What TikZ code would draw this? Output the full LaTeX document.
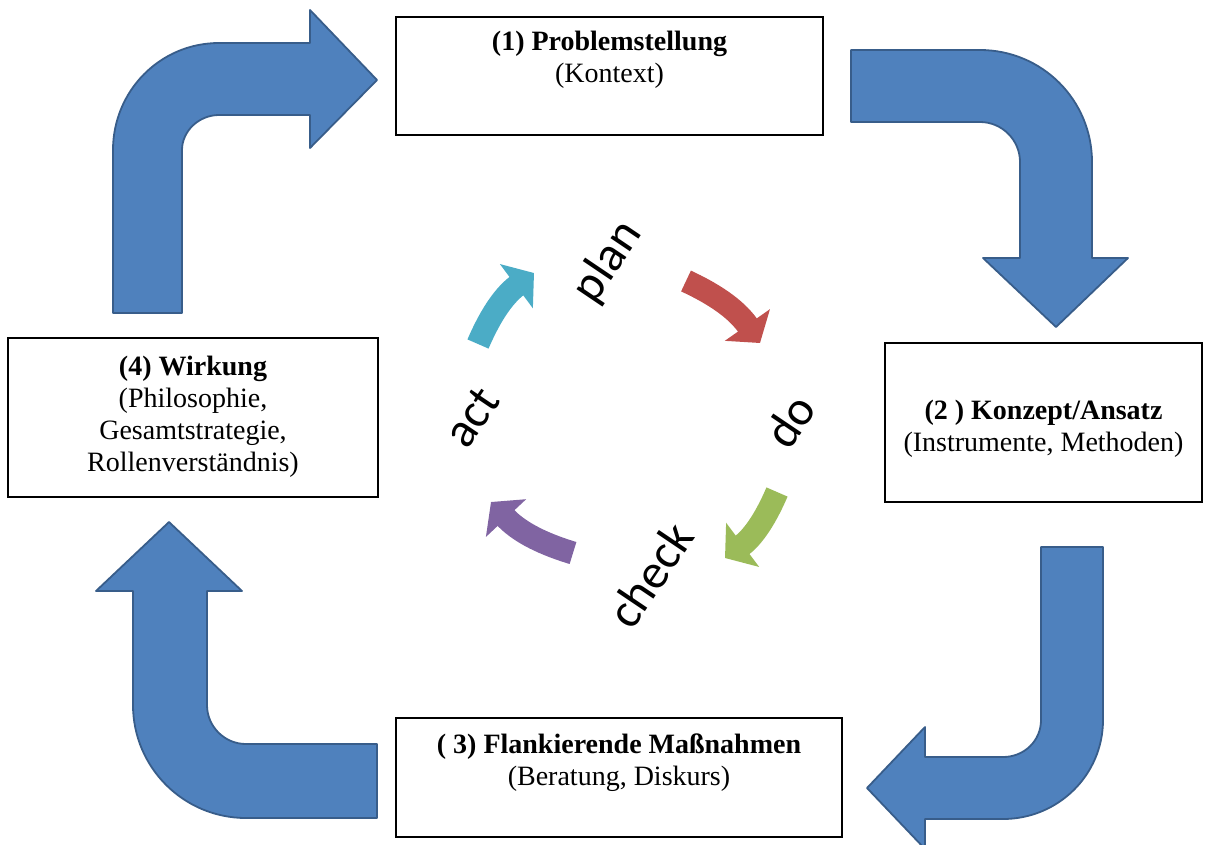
\documentclass[tikz,border=0pt]{standalone}
\usepackage{fontspec}
\setmainfont{Liberation Serif}
\newfontfamily\cyclefont{Carlito}
\usetikzlibrary{arrows.meta}
\definecolor{bigfill}{HTML}{4F81BD}
\definecolor{bigline}{HTML}{385D8A}
\definecolor{cteal}{HTML}{4BACC6}
\definecolor{cred}{HTML}{C0504D}
\definecolor{cgreen}{HTML}{9BBB59}
\definecolor{cpurple}{HTML}{8064A2}
\begin{document}
\begin{tikzpicture}[x=1pt,y=-1pt,
  bigarrow/.style={fill=bigfill, draw=bigline, line width=1.8pt, line join=round},
  box/.style={draw=black, line width=1.5pt, inner sep=0pt, fill=white},
  boxtext/.style={align=center, font=\fontsize{28}{32}\selectfont, inner sep=0pt},
  word/.style={font=\cyclefont\fontsize{49}{56}\selectfont, rotate=56, inner sep=0pt},
  cyc/.style={line width=23pt, -{Triangle[width=54pt,length=22pt]}}
]
\useasboundingbox (0,0) rectangle (1206,844);
\clip (0,0) rectangle (1206,844);

% big blue arrows
\draw[bigarrow] (113,313) -- (113,150) .. controls (113,91) and (160,43) .. (219,43)
  -- (310,43) -- (310,10) -- (377,80) -- (310,148) -- (310,115) -- (219,115)
  .. controls (199,115) and (182,131) .. (182,150) -- (182,313) -- cycle;
\draw[bigarrow] (851,50) -- (980,50) .. controls (1042,50) and (1092,100) .. (1092,162)
  -- (1092,258) -- (1128,258) -- (1056,327) -- (983,258) -- (1020,258) -- (1020,162)
  .. controls (1020,140) and (1002,122) .. (980,122) -- (851,122) -- cycle;
\draw[bigarrow] (1041,547) -- (1103,547) -- (1103,720) .. controls (1103,775) and (1058,819) .. (1003,819)
  -- (925,819) -- (925,849) -- (867,788) -- (925,727) -- (925,757) -- (1003,757)
  .. controls (1024,757) and (1041,741) .. (1041,720) -- cycle;
\draw[bigarrow] (377,744) -- (246,744) .. controls (224.5,744) and (207,726.5) .. (207,705)
  -- (207,591) -- (242,591) -- (169,522) -- (96,591) -- (133,591) -- (133,705)
  .. controls (133,767.4) and (183.6,818) .. (246,818) -- (377,818) -- cycle;

% boxes
\node[box, minimum width=427pt, minimum height=118pt] (b1) at (609.5,76) {};
\node[boxtext] (t1) at (609.5,60) {\textbf{(1) Problemstellung}\\(Kontext)};
\node[box, minimum width=317pt, minimum height=159pt] (b2) at (1043.5,422.5) {};
\node[boxtext] (t2) at (1043.5,429) {\textbf{(2 ) Konzept/Ansatz}\\(Instrumente, Methoden)};
\node[box, minimum width=446pt, minimum height=119pt] (b3) at (619,777.5) {};
\node[boxtext] (t3) at (619,763) {\textbf{( 3) Flankierende Maßnahmen}\\(Beratung, Diskurs)};
\node[box, minimum width=370pt, minimum height=159pt] (b4) at (193,417.5) {};
\node[boxtext] (t4) at (193,417) {\textbf{(4) Wirkung}\\(Philosophie,\\Gesamtstrategie,\\Rollenverständnis)};

% PDCA cycle
\node[word] (plan) at (608,262) {plan};
\node[word] (do) at (790,421) {do};
\node[word] (check) at (650,575) {check};
\node[word] (act) at (472,417) {act};

\coordinate (tealA) at (478,344);
\coordinate (tealB) at (534,273);
\coordinate (redA) at (686,281);
\coordinate (redB) at (760,343);
\coordinate (greenA) at (777,492);
\coordinate (greenB) at (725,558);
\coordinate (purpleA) at (573,553);
\coordinate (purpleB) at (491,502);
\draw[cyc, cteal] (tealA) to[bend left=15] (tealB);
\draw[cyc, cred] (redA) to[bend left=15] (redB);
\draw[cyc, cgreen] (greenA) to[bend left=15] (greenB);
\draw[cyc, cpurple] (purpleA) to[bend left=15] (purpleB);
\end{tikzpicture}
\end{document}
